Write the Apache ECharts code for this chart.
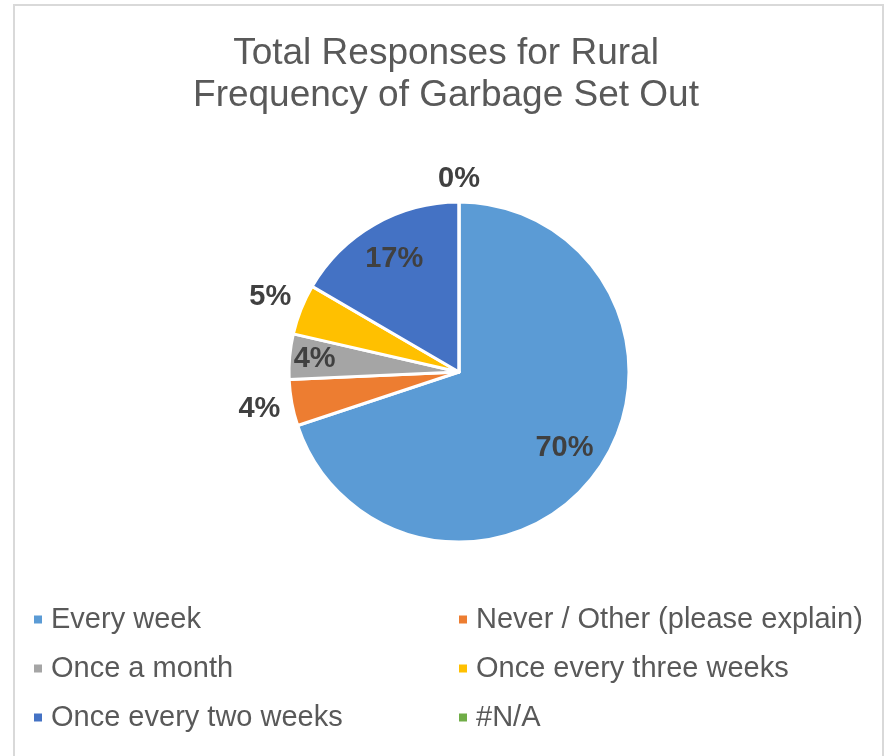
<!DOCTYPE html>
<html>
<head>
<meta charset="utf-8">
<script src="https://cdn.jsdelivr.net/npm/echarts@6/dist/echarts.min.js"></script>
<style>
html,body{margin:0;padding:0;background:#fff;}
#c{width:892px;height:756px;}
</style>
</head>
<body>
<div id="c"></div>
<script>
const titleText = 'Total Responses for Rural\nFrequency of Garbage Set Out';
const categories = ['Every week', 'Never / Other (please explain)', 'Once a month', 'Once every three weeks', 'Once every two weeks', '#N/A'];
const shares = [69.9, 4.4, 4.3, 4.8, 16.6, 0];
const colors = ['#5B9BD5', '#ED7D31', '#A5A5A5', '#FFC000', '#4472C4', '#70AD47'];
// which label ring each slice's label sits in
const labelRing = ['mid', 'outer', 'gray', 'outer', 'mid', 'top'];
const legendLeftCol = [0, 2, 4];
const legendRightCol = [1, 3, 5];

const R = 170;
const CENTER = [459, 372];
const ringRadii = { mid: [0, 254], gray: [0, 284], outer: [180, 220], top: [170, 210] };

const chart = echarts.init(document.getElementById('c'), null, {renderer: 'canvas'});

const pieData = categories.map((n, i) => ({
  name: n, value: shares[i], itemStyle: {color: colors[i]}
}));

function labelSeries(ring) {
  return {
    type: 'pie', silent: true, center: CENTER, radius: ringRadii[ring],
    startAngle: 90, clockwise: true, percentPrecision: 0, z: 5,
    legendHoverLink: false,
    itemStyle: {color: 'rgba(0,0,0,0)', borderWidth: 0},
    emphasis: {disabled: true},
    labelLine: {show: false},
    data: categories.map((n, i) => ({
      name: n, value: shares[i],
      itemStyle: {color: 'rgba(0,0,0,0)'},
      label: {show: labelRing[i] === ring}
    })),
    label: {
      position: 'inside', formatter: '{d}%',
      fontFamily: 'Liberation Sans, Arial, sans-serif',
      fontSize: 29, fontWeight: 'bold', color: '#404040'
    }
  };
}

const legendCommon = {
  orient: 'vertical', icon: 'rect', itemWidth: 10, itemHeight: 10,
  itemGap: 20, top: 605, padding: 0, selectedMode: false,
  textStyle: {
    fontFamily: 'Liberation Sans, Arial, sans-serif', fontSize: 29,
    color: '#595959', lineHeight: 29, padding: [0, 0, 0, 3]
  }
};

chart.setOption({
  backgroundColor: '#ffffff',
  animation: false,
  graphic: [{
    type: 'rect', silent: true,
    shape: {x: 14, y: 5, width: 869, height: 800},
    style: {fill: 'none', stroke: '#d9d9d9', lineWidth: 2}
  }],
  title: {
    text: titleText, left: 'center', top: 28,
    textStyle: {
      fontFamily: 'Liberation Sans, Arial, sans-serif', fontSize: 37,
      fontWeight: 'normal', color: '#595959', lineHeight: 42
    }
  },
  legend: [
    Object.assign({left: 32, data: legendLeftCol.map(i => ({name: categories[i], itemStyle: {color: colors[i]}}))}, legendCommon),
    Object.assign({left: 457, data: legendRightCol.map(i => ({name: categories[i], itemStyle: {color: colors[i]}}))}, legendCommon)
  ],
  series: [
    {
      type: 'pie', center: CENTER, radius: [0, R], startAngle: 90, clockwise: true,
      percentPrecision: 0, silent: true,
      itemStyle: {borderColor: '#ffffff', borderWidth: 3},
      label: {show: false}, labelLine: {show: false},
      emphasis: {disabled: true},
      data: pieData
    },
    labelSeries('mid'),
    labelSeries('gray'),
    labelSeries('outer'),
    labelSeries('top')
  ]
});
</script>
</body>
</html>
